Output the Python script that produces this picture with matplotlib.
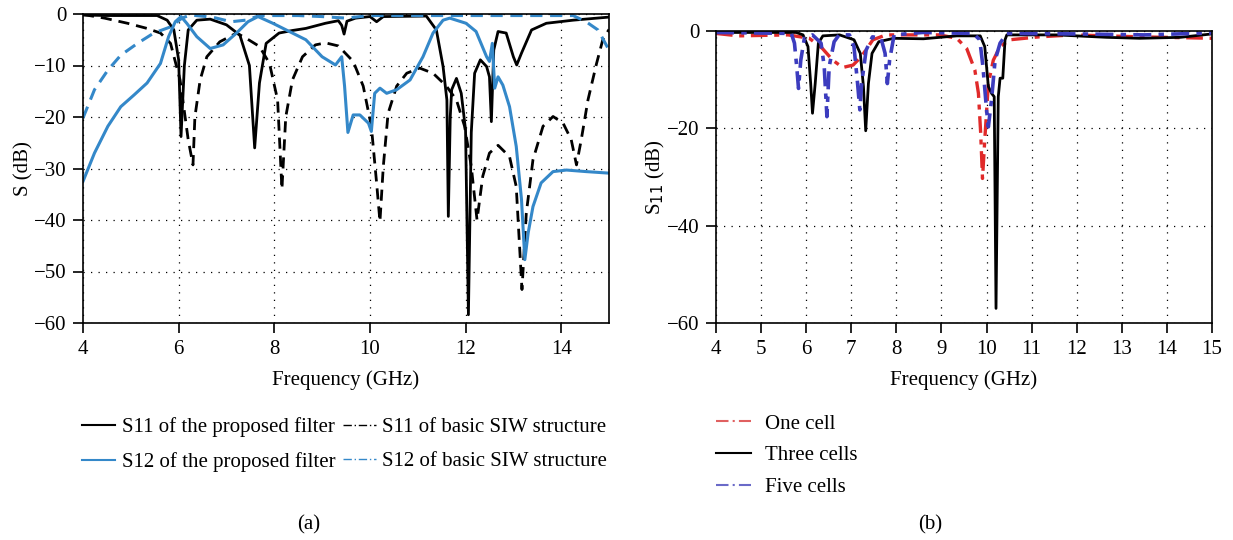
import numpy as np
import matplotlib
matplotlib.use("Agg")
import matplotlib.pyplot as plt

plt.rcParams['font.family'] = ['Liberation Serif', 'DejaVu Serif']
plt.rcParams['font.size'] = 15

# (a) frequency (GHz), S (dB) pairs
s11_prop = np.array([
    (4.0, -0.2), (4.5, -0.3), (5.0, -0.3), (5.55, -0.3), (5.76, -1.2), (5.9, -3.1),
    (6.0, -8.9), (6.05, -23.8), (6.12, -10), (6.2, -3.1), (6.38, -1.2), (6.66, -1.0),
    (7.0, -2.1), (7.28, -4.1), (7.48, -10), (7.59, -26), (7.69, -13.4), (7.83, -5.7),
    (8.1, -3.7), (8.38, -3.2), (8.66, -2.8), (9.07, -1.8), (9.34, -1.3), (9.41, -2.2),
    (9.46, -3.9), (9.52, -1.4), (9.7, -0.8), (10.0, -0.5), (10.14, -1.5), (10.28, -0.5),
    (11.18, -0.4), (11.39, -3.1), (11.53, -10.2), (11.61, -16.7), (11.64, -39.3),
    (11.68, -20), (11.71, -14.7), (11.81, -12.5), (11.91, -15.4), (12.0, -22.5),
    (12.06, -58.4), (12.12, -23), (12.19, -11.5), (12.31, -8.9), (12.44, -10.2),
    (12.5, -12.2), (12.54, -20.9), (12.59, -7), (12.68, -3.4), (12.85, -3.7), (13.0, -8.3),
    (13.07, -9.9), (13.17, -7.6), (13.38, -3.1), (13.69, -1.8), (14.25, -1.2), (15.0, -0.6)])

s11_basic = np.array([
    (4.0, -0.1), (4.45, -0.8), (4.93, -1.8), (5.34, -2.8), (5.62, -3.7), (5.83, -5.7),
    (6.03, -12.8), (6.2, -24.4), (6.3, -29.3), (6.34, -20), (6.45, -12.8), (6.59, -8.3),
    (6.86, -5.4), (7.21, -3.7), (7.41, -4.7), (7.69, -6.3), (7.9, -9.6), (8.07, -16.7),
    (8.16, -34), (8.24, -20), (8.38, -12.8), (8.59, -8.3), (8.86, -6), (9.07, -5.6),
    (9.34, -6.2), (9.65, -9.2), (9.86, -14), (10.03, -21.8), (10.14, -32.8), (10.21, -40.3),
    (10.28, -29.6), (10.38, -19.3), (10.56, -14), (10.77, -11.5), (11.04, -10.5),
    (11.32, -11.5), (11.6, -14), (11.81, -16.7), (11.98, -21.8), (12.12, -29.6),
    (12.24, -40), (12.36, -31.5), (12.5, -27), (12.68, -25.5), (12.92, -27.7),
    (13.06, -33.5), (13.18, -53.5), (13.27, -38.7), (13.41, -28.3), (13.62, -21.8),
    (13.83, -19.9), (14.04, -21.2), (14.21, -24.4), (14.32, -29.3), (14.42, -24.4),
    (14.56, -16.7), (14.74, -9.6), (14.87, -5), (15.0, -3.0)])

s12_prop = np.array([
    (4.0, -32.5), (4.24, -27), (4.52, -21.8), (4.79, -18), (5.07, -15.7), (5.34, -13.4),
    (5.62, -9.6), (5.79, -4.4), (5.93, -1.5), (6.05, -0.5), (6.17, -1.8), (6.38, -4.4),
    (6.66, -6.7), (6.93, -6), (7.21, -3.7), (7.45, -1.5), (7.66, -0.5), (7.97, -1.8),
    (8.38, -3.7), (8.66, -5), (9.0, -8.3), (9.28, -9.9), (9.41, -8.3), (9.47, -14),
    (9.54, -23), (9.65, -19.6), (9.79, -19.6), (9.97, -21.2), (10.03, -22.8), (10.1, -15.4),
    (10.21, -14.4), (10.35, -15.4), (10.56, -14.7), (10.84, -12.8), (11.11, -8.3),
    (11.32, -3.7), (11.53, -1.2), (11.67, -0.8), (12.01, -1.8), (12.22, -3.4), (12.44, -8.3),
    (12.5, -9.2), (12.56, -5.7), (12.61, -14.4), (12.68, -12.2), (12.78, -13.8),
    (12.92, -18), (13.06, -25.7), (13.17, -36), (13.24, -47.7), (13.31, -42.5),
    (13.41, -37.4), (13.58, -32.8), (13.83, -30.6), (14.11, -30.3), (14.52, -30.6),
    (15.0, -30.9)])

s12_basic = np.array([
    (4.0, -20.2), (4.24, -14.7), (4.52, -10.9), (4.79, -8), (5.14, -5.7), (5.48, -3.7),
    (5.83, -2.5), (6.07, -0.8), (6.24, -0.2), (6.7, -0.6), (7.1, -1.5), (7.4, -1.2),
    (7.7, -0.3), (8.5, -0.3), (9.0, -0.5), (9.5, -0.8), (10.0, -0.3), (11.0, -0.3),
    (12.0, -0.3), (13.0, -0.3), (14.25, -0.3), (14.52, -1.5), (14.77, -3.1), (15.0, -7.0)])

# (b) S11 for different numbers of cells
one_cell = np.array([
    (4.0, -0.5), (4.5, -1.0), (5.6, -0.8), (6.07, -1.5), (6.36, -3.6), (6.59, -6),
    (6.81, -7.5), (7.04, -7), (7.22, -5.3), (7.48, -1.8), (7.77, -0.8), (8.96, -0.8),
    (9.34, -1.5), (9.56, -3.6), (9.74, -8), (9.82, -12.8), (9.87, -21), (9.91, -30.3),
    (9.97, -21), (10.04, -10.8), (10.15, -6), (10.3, -3.2), (10.52, -1.8), (11.17, -1.2),
    (11.92, -0.8), (13.4, -1.2), (14.5, -1.4), (15.0, -1.5)])

three_cells = np.array([
    (4.0, -0.3), (5.78, -0.3), (5.93, -0.8), (6.04, -3.2), (6.1, -10.8), (6.14, -16.9),
    (6.2, -10.8), (6.27, -2.5), (6.37, -1.0), (6.74, -0.8), (7.06, -1.8), (7.2, -4.6),
    (7.27, -11.4), (7.32, -20.5), (7.38, -10.8), (7.46, -4.6), (7.61, -2.2), (7.94, -1.5),
    (8.6, -1.6), (9.34, -1.0), (9.86, -1.0), (9.96, -3.2), (10.04, -11.4), (10.11, -12.8),
    (10.17, -13.5), (10.21, -57), (10.26, -13.5), (10.3, -9.7), (10.36, -9.7),
    (10.41, -1.8), (10.45, -0.8), (11.55, -0.8), (12.66, -1.3), (13.4, -1.5),
    (14.3, -1.3), (15.0, -0.6)])

five_cells = np.array([
    (4.0, -0.3), (5.67, -0.5), (5.74, -2.5), (5.79, -7.3), (5.83, -11.8), (5.88, -6),
    (5.96, -1.5), (6.14, -0.8), (6.33, -2.5), (6.4, -7.3), (6.46, -17.6), (6.51, -7.3),
    (6.62, -2.2), (6.73, -0.8), (6.96, -0.8), (7.06, -3.2), (7.14, -10.8), (7.19, -16.2),
    (7.23, -10.8), (7.33, -3.9), (7.47, -1.2), (7.66, -1.5), (7.75, -4.6), (7.8, -10.8),
    (7.85, -6), (7.95, -0.8), (8.58, -0.3), (9.7, -0.5), (9.85, -1.8), (9.92, -7.3),
    (10.0, -16.2), (10.04, -19.7), (10.11, -14.2), (10.19, -6), (10.3, -2.5),
    (10.45, -0.5), (12.0, -0.6), (13.5, -0.8), (15.0, -0.4)])

blue = "#3488c9"
dashdot = (0, (6, 2, 1, 2))
W, H = 1233, 540

fig = plt.figure(figsize=(W / 100, H / 100), dpi=100)
ax1 = fig.add_axes([83 / W, 1 - 323 / H, 526 / W, 309 / H])
ax2 = fig.add_axes([716 / W, 1 - 323 / H, 496 / W, 292 / H])

# ---- (a)
ax1.plot(*s11_prop.T, color="black", lw=2.0)
ax1.plot(*s11_basic.T, color="black", lw=2.0, ls=(0, (4, 2.5)))
ax1.plot(*s12_prop.T, color=blue, lw=2.2)
ax1.plot(*s12_basic.T, color=blue, lw=2.2, ls=(0, (4, 2.5)))
ax1.set_xlim(4, 15)
ax1.set_ylim(-60, 0)
ax1.set_xticks([4, 6, 8, 10, 12, 14])
ax1.set_yticks([0, -10, -20, -30, -40, -50, -60])
ax1.set_xlabel("Frequency (GHz)", labelpad=8)
ax1.set_ylabel("S (dB)", labelpad=0)

# legend proxies (legend shows thin dash-dot lines)
h1, = ax1.plot([], [], color="black", lw=1.5)
h2, = ax1.plot([], [], color="black", lw=1.0, ls=dashdot)
h3, = ax1.plot([], [], color=blue, lw=1.5)
h4, = ax1.plot([], [], color=blue, lw=1.0, ls=dashdot)
fig.legend([h1, h3, h2, h4],
           ["S11 of the proposed filter", "S12 of the proposed filter",
            "S11 of basic SIW structure", "S12 of basic SIW structure"],
           ncol=2, loc="upper left", bbox_to_anchor=(82 / W, 1 - 417 / H),
           frameon=False, fontsize=15, handlelength=1.6, handletextpad=0.3,
           columnspacing=0.35, labelspacing=0.72, borderaxespad=0, borderpad=0)

# ---- (b)
ax2.plot(*one_cell.T, color="#e02a2a", lw=2.4, ls=(0, (5, 2, 1.5, 2)))
ax2.plot(*three_cells.T, color="black", lw=2.0)
ax2.plot(*five_cells.T, color="#3c3cbe", lw=2.6, ls=(0, (5, 2, 1.5, 2)))
ax2.set_xlim(4, 15)
ax2.set_ylim(-60, 0)
ax2.set_xticks(np.arange(4, 16, 1))
ax2.set_yticks([0, -20, -40, -60])
ax2.set_xlabel("Frequency (GHz)", labelpad=8)
ax2.set_ylabel("S$_{11}$ (dB)", labelpad=0)

g1, = ax2.plot([], [], color="#e06060", lw=1.5, ls=dashdot)
g2, = ax2.plot([], [], color="black", lw=1.5)
g3, = ax2.plot([], [], color="#6a6ac8", lw=1.5, ls=dashdot)
fig.legend([g1, g2, g3], ["One cell", "Three cells", "Five cells"],
           loc="upper left", bbox_to_anchor=(716 / W, 1 - 414 / H),
           frameon=False, fontsize=15, handlelength=1.7, handletextpad=0.67,
           labelspacing=0.58, borderaxespad=0, borderpad=0)

for ax in (ax1, ax2):
    ax.grid(True, color="black", ls=(0, (1, 5)), lw=0.9)
    ax.tick_params(direction="out", length=7, width=1.2, pad=5, labelsize=15, colors="black")
    for s in ax.spines.values():
        s.set_linewidth(1.2)

fig.text(309 / W, 1 - 525 / H, "(a)", ha="center", va="center", fontsize=15)
fig.text(930 / W, 1 - 525 / H, "(b)", ha="center", va="center", fontsize=15)

fig.savefig("out.png", dpi=100)
